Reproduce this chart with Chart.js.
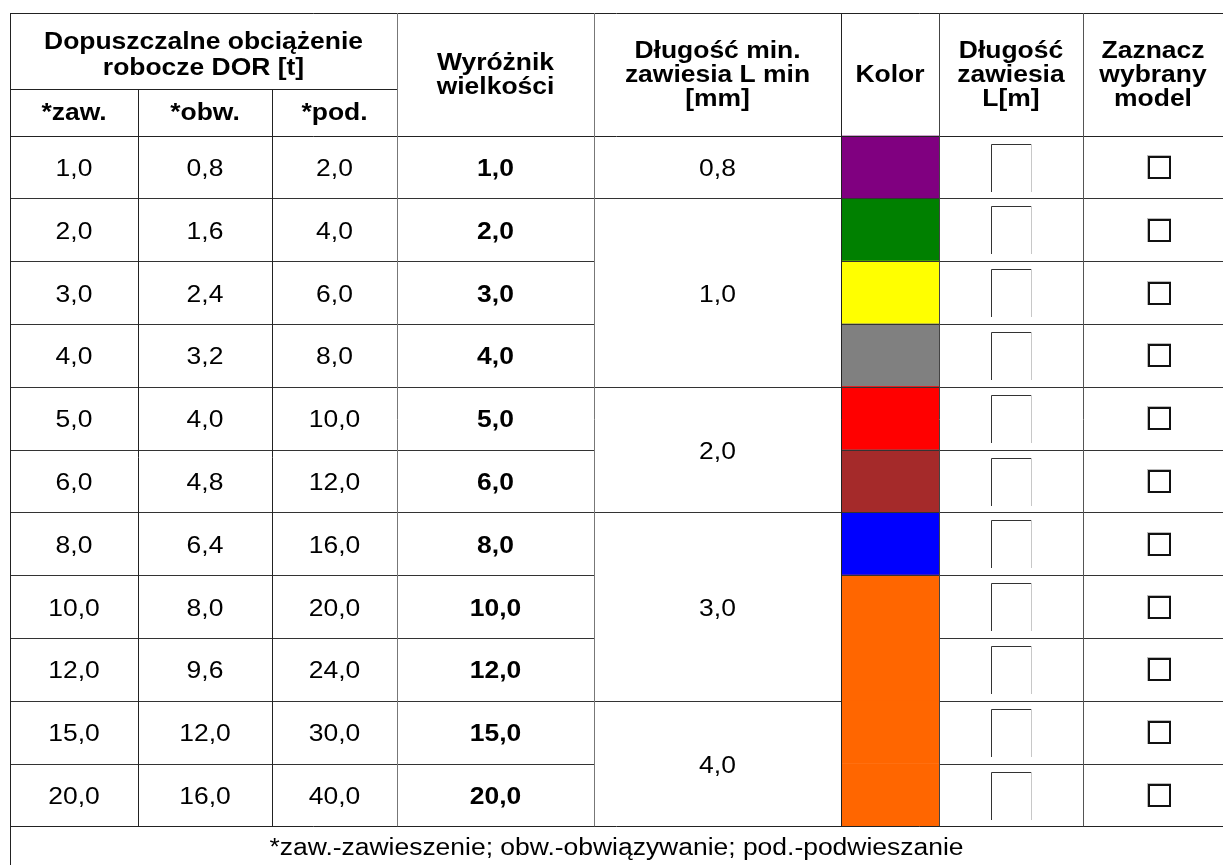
<!DOCTYPE html>
<html>
<head>
<meta charset="utf-8">
<script src="https://cdn.jsdelivr.net/npm/chart.js@4.4.0/dist/chart.umd.min.js"></script>
<style>
html,body{margin:0;padding:0;background:#fff;}
canvas{display:block;}
</style>
</head>
<body>
<canvas id="c" width="1223" height="865" style="width:1223px;height:865px"></canvas>
<script>
// ---- data ----
const zaw = [1.0, 2.0, 3.0, 4.0, 5.0, 6.0, 8.0, 10.0, 12.0, 15.0, 20.0];
const obw = [0.8, 1.6, 2.4, 3.2, 4.0, 4.8, 6.4, 8.0, 9.6, 12.0, 16.0];
const pod = [2.0, 4.0, 6.0, 8.0, 10.0, 12.0, 16.0, 20.0, 24.0, 30.0, 40.0];
const wyroznik = [1.0, 2.0, 3.0, 4.0, 5.0, 6.0, 8.0, 10.0, 12.0, 15.0, 20.0];
const lminValues = [0.8, 1.0, 2.0, 3.0, 4.0];
const lminSpans = [1, 3, 2, 3, 2];
const kolory = ['#800080', '#008000', '#ffff00', '#808080', '#ff0000', '#a52a2a', '#0000ff', '#ff6600', '#ff6600', '#ff6600', '#ff6600'];
const headerGroup = ['Dopuszczalne obciążenie', 'robocze DOR [t]'];
const subHeaders = ['*zaw.', '*obw.', '*pod.'];
const headers = [
  ['Wyróżnik', 'wielkości'],
  ['Długość min.', 'zawiesia L min', '[mm]'],
  ['Kolor'],
  ['Długość', 'zawiesia', 'L[m]'],
  ['Zaznacz', 'wybrany', 'model']
];
const footer = '*zaw.-zawieszenie; obw.-obwiązywanie; pod.-podwieszanie';

const fmt = v => v.toFixed(1).replace('.', ',');

// ---- layout ----
const X = [10, 138, 272, 397, 594, 841, 939, 1083, 1223];
const TOP = 13, MID = 89, HEAD = 135.5, FOOT = 826.3;
const FONT = '"Liberation Sans", Arial, sans-serif';
const FS = 23, SX = 1.15, LH = 24;

function txt(ctx, s, x, y, bold) {
  ctx.save();
  ctx.font = (bold ? 'bold ' : '') + FS + 'px ' + FONT;
  ctx.textAlign = 'center';
  ctx.textBaseline = 'alphabetic';
  ctx.fillStyle = '#000';
  ctx.translate(x, y);
  ctx.scale(SX, 1);
  ctx.fillText(s, 0, 0);
  ctx.restore();
}
function lines(ctx, arr, cx, cy, bold, lh) {
  const n = arr.length;
  arr.forEach((s, i) => {
    const c = cy + (i - (n - 1) / 2) * (lh || LH);
    txt(ctx, s, cx, c + 8, bold);
  });
}
function hl(ctx, x1, x2, y, col) {
  ctx.strokeStyle = col || '#222';
  ctx.lineWidth = 1;
  ctx.beginPath();
  const yy = Math.round(y) + 0.5;
  ctx.moveTo(x1, yy); ctx.lineTo(x2, yy); ctx.stroke();
}
function vl(ctx, x, y1, y2, col) {
  ctx.strokeStyle = col || '#222';
  ctx.lineWidth = 1;
  ctx.beginPath();
  const xx = Math.round(x) + 0.5;
  ctx.moveTo(xx, y1); ctx.lineTo(xx, y2); ctx.stroke();
}

const tablePlugin = {
  id: 'table',
  afterDatasetsDraw(chart) {
    const ctx = chart.ctx;
    const ys = chart.scales.y;
    const n = zaw.length;
    const rowH = (FOOT - HEAD) / n;
    const cy = i => ys.getPixelForValue(i);
    const top = i => cy(i) - rowH / 2;
    const mid = (a, b) => (X[a] + X[b]) / 2;

    // header text
    lines(ctx, headerGroup, mid(0, 3), (TOP + MID) / 2 + 3, true, 26);
    subHeaders.forEach((s, i) => txt(ctx, s, mid(i, i + 1), (MID + HEAD) / 2 + 8, true));
    headers.forEach((h, i) => lines(ctx, h, mid(i + 3, i + 4), (TOP + HEAD) / 2, true));

    // body text
    for (let i = 0; i < n; i++) {
      const y = cy(i) + 9;
      txt(ctx, fmt(zaw[i]), mid(0, 1), y, false);
      txt(ctx, fmt(obw[i]), mid(1, 2), y, false);
      txt(ctx, fmt(pod[i]), mid(2, 3), y, false);
      txt(ctx, fmt(wyroznik[i]), mid(3, 4), y, true);
    }
    let r = 0;
    const groupEnds = [];
    lminValues.forEach((v, g) => {
      const a = r, b = r + lminSpans[g] - 1;
      const c = (cy(a) + cy(b)) / 2;
      txt(ctx, fmt(v), mid(4, 5), c + 9, false);
      r += lminSpans[g];
      groupEnds.push(r);
    });

    // horizontal lines
    hl(ctx, X[0], 1223, TOP);
    hl(ctx, X[0], X[3], MID);
    hl(ctx, X[0], 1223, HEAD);
    for (let i = 1; i < n; i++) {
      const y = top(i);
      hl(ctx, X[0], X[4], y, '#333');
      if (groupEnds.includes(i)) hl(ctx, X[4], X[5], y, '#333');
      if (kolory[i] !== kolory[i - 1]) hl(ctx, X[5], X[6], y, '#333');
      hl(ctx, X[6], 1223, y, '#333');
    }
    hl(ctx, X[0], 1223, FOOT);

    // vertical lines
    vl(ctx, X[0], TOP, 865);
    vl(ctx, X[1], MID, FOOT);
    vl(ctx, X[2], MID, FOOT);
    vl(ctx, X[3], TOP, FOOT, '#777');
    vl(ctx, X[4], TOP, FOOT, '#777');
    vl(ctx, X[5], TOP, FOOT);
    vl(ctx, X[6], TOP, FOOT, '#444');
    vl(ctx, X[7], TOP, FOOT, '#555');

    // input boxes and checkboxes
    for (let i = 0; i < n; i++) {
      const t = Math.round(top(i));
      ctx.strokeStyle = '#333';
      ctx.lineWidth = 1;
      ctx.beginPath();
      ctx.moveTo(991.5, t + 56); ctx.lineTo(991.5, t + 8.5); ctx.lineTo(1031, t + 8.5);
      ctx.stroke();
      ctx.strokeStyle = '#c8c8c8';
      ctx.beginPath();
      ctx.moveTo(1031.5, t + 8); ctx.lineTo(1031.5, t + 56);
      ctx.stroke();

      const c = Math.round(cy(i));
      ctx.strokeStyle = '#bbb';
      ctx.lineWidth = 1;
      ctx.strokeRect(1147.5, c - 11.5, 23, 23);
      ctx.strokeStyle = '#111';
      ctx.lineWidth = 2;
      ctx.strokeRect(1149, c - 10, 21, 21);
    }

    // footer
    ctx.save();
    ctx.font = FS + 'px ' + FONT;
    ctx.textAlign = 'center';
    ctx.fillStyle = '#000';
    ctx.translate((X[0] + 1223) / 2, 855);
    ctx.scale(SX, 1);
    ctx.fillText(footer, 0, 0);
    ctx.restore();
  }
};

new Chart(document.getElementById('c'), {
  type: 'bar',
  data: {
    labels: wyroznik.map(fmt),
    datasets: [{
      label: 'Kolor',
      data: kolory.map(() => [0, 1]),
      backgroundColor: kolory,
      borderWidth: 0,
      barPercentage: 1,
      categoryPercentage: 1
    }]
  },
  options: {
    indexAxis: 'y',
    responsive: false,
    animation: false,
    devicePixelRatio: 1,
    layout: { padding: { left: 841, right: 284, top: 135.5, bottom: 38.7 } },
    plugins: { legend: { display: false }, tooltip: { enabled: false } },
    scales: {
      x: { display: false, min: 0, max: 1 },
      y: { display: false, offset: true }
    }
  },
  plugins: [tablePlugin]
});
</script>
</body>
</html>
